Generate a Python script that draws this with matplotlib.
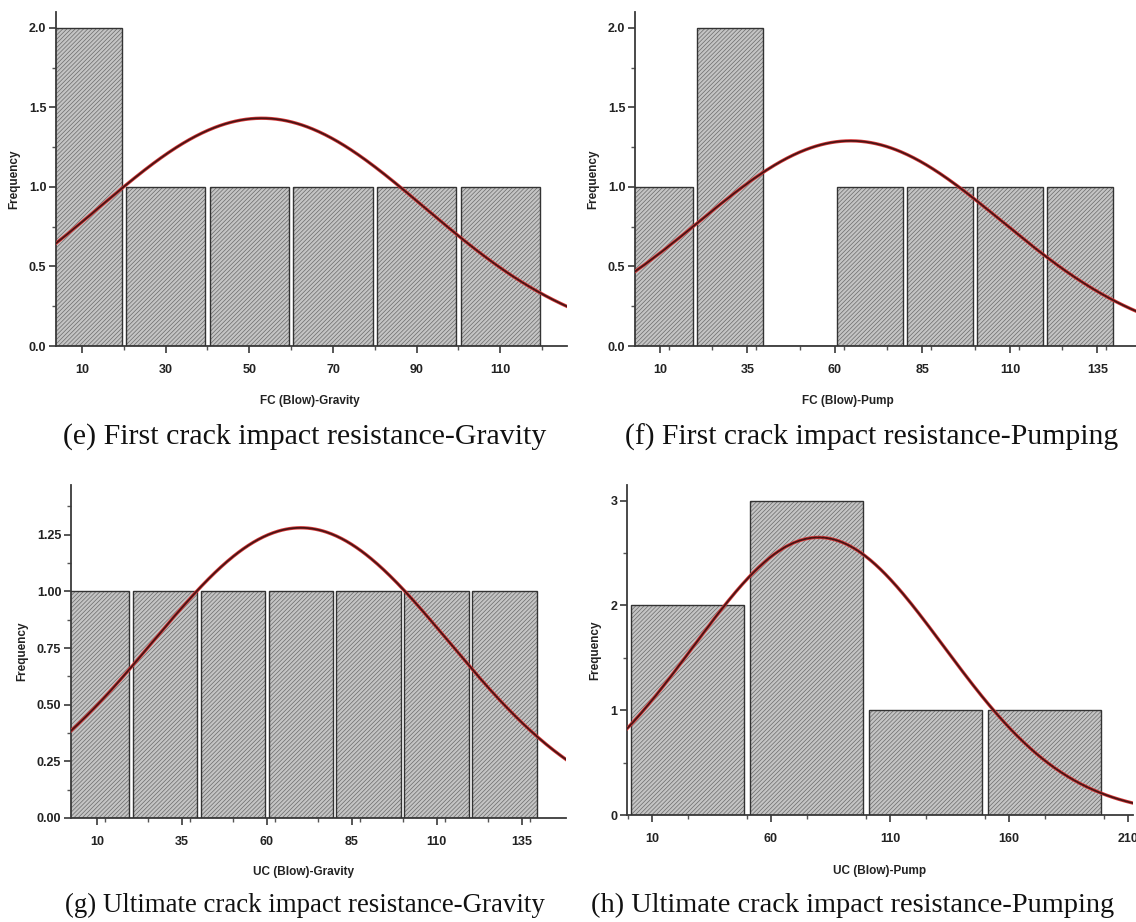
import numpy as np
import matplotlib
matplotlib.use('Agg')
import matplotlib.pyplot as plt
from matplotlib.ticker import MultipleLocator, FormatStrFormatter

plt.rcParams['font.family'] = ['Liberation Sans', 'DejaVu Sans']
plt.rcParams['hatch.linewidth'] = 0.5

# histogram data: bin edges and counts
e_edges = [0, 20, 40, 60, 80, 100, 120]
e_counts = [2, 1, 1, 1, 1, 1]
f_edges = [0, 20, 40, 60, 80, 100, 120, 140]
f_counts = [1, 2, 0, 1, 1, 1, 1]
g_edges = [0, 20, 40, 60, 80, 100, 120, 140]
g_counts = [1, 1, 1, 1, 1, 1, 1]
h_edges = [0, 50, 100, 150, 200]
h_counts = [2, 3, 1, 1]

# normal fit (mean, std dev) of each sample
e_fit = (53.0, 39.0)
f_fit = (64.5, 43.3)
g_fit = (70.0, 43.6)
h_fit = (80.0, 52.7)

e_ticks = [10, 30, 50, 70, 90, 110]
f_ticks = [10, 35, 60, 85, 110, 135]
g_ticks = [10, 35, 60, 85, 110, 135]
h_ticks = [10, 60, 110, 160, 210]

e_xlabel = 'FC (Blow)-Gravity'
f_xlabel = 'FC (Blow)-Pump'
g_xlabel = 'UC (Blow)-Gravity'
h_xlabel = 'UC (Blow)-Pump'

captions = ['(e) First crack impact resistance-Gravity',
            '(f) First crack impact resistance-Pumping',
            '(g) Ultimate crack impact resistance-Gravity',
            '(h) Ultimate crack impact resistance-Pumping']


def panel(ax, edges, counts, fit, ticks, xlabel, xlim, ylim, ymajor, yfmt,
          ylab_x, xlab_x, xlab_y):
    edges = np.array(edges, dtype=float)
    w = edges[1] - edges[0]
    lefts = edges[:-1]
    gap = w * 0.025
    # hatched fill
    ax.bar(lefts + gap, counts, width=w - 2 * gap, align='edge',
           color='#c4c4c4', edgecolor='#6a6a6a', hatch='////////',
           linewidth=0, zorder=2)
    # outline
    ax.bar(lefts + gap, counts, width=w - 2 * gap, align='edge',
           fill=False, edgecolor='#333333', linewidth=1.0, zorder=3)

    mu, sd = fit
    n = sum(counts)
    x = np.linspace(xlim[0], xlim[1], 400)
    y = n * w / (sd * np.sqrt(2 * np.pi)) * np.exp(-0.5 * ((x - mu) / sd) ** 2)
    ax.plot(x, y, color='#d83a3a', lw=2.4, zorder=4)
    ax.plot(x, y, color='#4a1414', lw=1.3, zorder=5)

    ax.set_xlim(xlim)
    ax.set_ylim(ylim)
    ax.set_xticks(ticks)
    step = ticks[1] - ticks[0]
    ax.xaxis.set_minor_locator(MultipleLocator(step / 2))
    ax.yaxis.set_major_locator(MultipleLocator(ymajor))
    ax.yaxis.set_minor_locator(MultipleLocator(ymajor / 2))
    ax.yaxis.set_major_formatter(FormatStrFormatter(yfmt))

    for s in ['top', 'right']:
        ax.spines[s].set_visible(False)
    for s in ['left', 'bottom']:
        ax.spines[s].set_color('#3a3a3a')
        ax.spines[s].set_linewidth(1.3)
    ax.tick_params(which='major', length=5, width=1.2, color='#3a3a3a',
                   labelsize=9, pad=2)
    ax.tick_params(which='minor', length=3, width=1.0, color='#555555')
    ax.tick_params(axis='x', which='major', pad=8)
    for lab in ax.get_xticklabels() + ax.get_yticklabels():
        lab.set_fontweight('bold')
        lab.set_color('#222222')

    ax.set_ylabel('Frequency', fontsize=8.5, fontweight='bold', color='#222222')
    ax.yaxis.set_label_coords(ylab_x, 0.5)
    ax.set_xlabel(xlabel, fontsize=8.5, fontweight='bold', color='#222222')
    ax.xaxis.set_label_coords(xlab_x, xlab_y)


fig = plt.figure(figsize=(11.36, 9.22), dpi=100)

ax_e = fig.add_axes([0.0493, 0.6247, 0.450, 0.3623])
ax_f = fig.add_axes([0.5590, 0.6247, 0.441, 0.3623])
ax_g = fig.add_axes([0.0625, 0.1128, 0.4357, 0.3612])
ax_h = fig.add_axes([0.5520, 0.1160, 0.4450, 0.3580])

panel(ax_e, e_edges, e_counts, e_fit, e_ticks, e_xlabel, (3.8, 126), (0, 2.1),
      0.5, '%.1f', -0.070, 0.497, -0.148)
panel(ax_f, f_edges, f_counts, f_fit, f_ticks, f_xlabel, (2.9, 146), (0, 2.1),
      0.5, '%.1f', -0.072, 0.425, -0.148)
panel(ax_g, g_edges, g_counts, g_fit, g_ticks, g_xlabel, (2.4, 148), (0, 1.47),
      0.25, '%.2f', -0.087, 0.47, -0.145)
panel(ax_h, h_edges, h_counts, h_fit, h_ticks, h_xlabel, (-0.5, 212), (0, 3.15),
      1, '%d', -0.051, 0.5, -0.15)

cap_kw = dict(family=['Liberation Serif', 'DejaVu Serif'],
              ha='center', va='center', color='#111111')
fig.text(305 / 1136, 1 - 437 / 922, captions[0], fontsize=21.5, **cap_kw)
fig.text(872 / 1136, 1 - 437 / 922, captions[1], fontsize=21.3, **cap_kw)
fig.text(305 / 1136, 1 - 905 / 922, captions[2], fontsize=19.4, **cap_kw)
fig.text(853 / 1136, 1 - 905 / 922, captions[3], fontsize=20.4, **cap_kw)

fig.savefig('out.png', dpi=100)
